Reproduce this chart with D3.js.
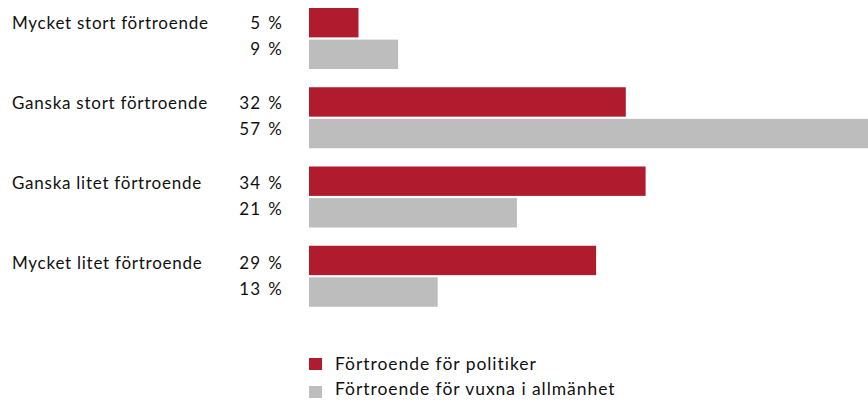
<!DOCTYPE html>
<html>
<head>
<meta charset="utf-8">
<script src="https://cdn.jsdelivr.net/npm/d3@7"></script>
<style>
  body { margin: 0; background: #fff; }
  text { font-family: Lato, "Noto Sans", sans-serif; fill: #111; }
</style>
</head>
<body>
<svg id="chart" width="868" height="401"></svg>
<script>
// values
const categories = ["Mycket stort förtroende", "Ganska stort förtroende", "Ganska litet förtroende", "Mycket litet förtroende"];
const series = ["Förtroende för politiker", "Förtroende för vuxna i allmänhet"];
const politiker = [5, 32, 34, 29];
const vuxna = [9, 57, 21, 13];
const colors = ["#b01b2e", "#bdbdbd"];

const svg = d3.select("#chart");

const x = d3.scaleLinear().domain([0, 100]).range([309, 1299]);
const y = d3.scaleBand().domain(categories).range([8, 325]);
const ySub = d3.scaleBand().domain(series).range([0, 61]).paddingInner(0.07);
// text lines sit on a slightly different grid than the bars
const yText = d3.scaleBand().domain(categories).range([29, 349]);
const yTextSub = d3.scaleOrdinal().domain(series).range([0, 26]);

const rows = [];
categories.forEach(function (c, i) {
    rows.push({ cat: c, s: series[0], v: politiker[i], color: colors[0] });
    rows.push({ cat: c, s: series[1], v: vuxna[i], color: colors[1] });
});

svg.selectAll("rect.bar")
    .data(rows)
    .enter()
    .append("rect")
    .attr("class", "bar")
    .attr("x", x(0))
    .attr("y", d => y(d.cat) + ySub(d.s))
    .attr("width", d => x(d.v) - x(0))
    .attr("height", ySub.bandwidth())
    .attr("fill", d => d.color);

// value labels
svg.selectAll("text.val")
    .data(rows)
    .enter()
    .append("text")
    .attr("class", "val")
    .attr("x", 283)
    .attr("y", d => yText(d.cat) + yTextSub(d.s))
    .attr("text-anchor", "end")
    .style("font-size", "17px")
    .style("letter-spacing", "1px")
    .style("word-spacing", "2px")
    .text(d => d.v + " %");

// category labels
svg.selectAll("text.cat")
    .data(categories)
    .enter()
    .append("text")
    .attr("class", "cat")
    .attr("x", 12)
    .attr("y", d => yText(d))
    .style("font-size", "17px")
    .style("letter-spacing", "0.75px")
    .text(d => d);

// legend
const legTextY = [370, 395];
const legBoxY = [358, 386];

svg.selectAll("rect.leg")
    .data(series)
    .enter()
    .append("rect")
    .attr("class", "leg")
    .attr("x", 309)
    .attr("y", (d, i) => legBoxY[i])
    .attr("width", 13)
    .attr("height", 12)
    .attr("fill", (d, i) => colors[i]);

svg.selectAll("text.leg")
    .data(series)
    .enter()
    .append("text")
    .attr("class", "leg")
    .attr("x", 335)
    .attr("y", (d, i) => legTextY[i])
    .style("font-size", "17.5px")
    .style("letter-spacing", "0.95px")
    .text(d => d);
</script>
</body>
</html>
